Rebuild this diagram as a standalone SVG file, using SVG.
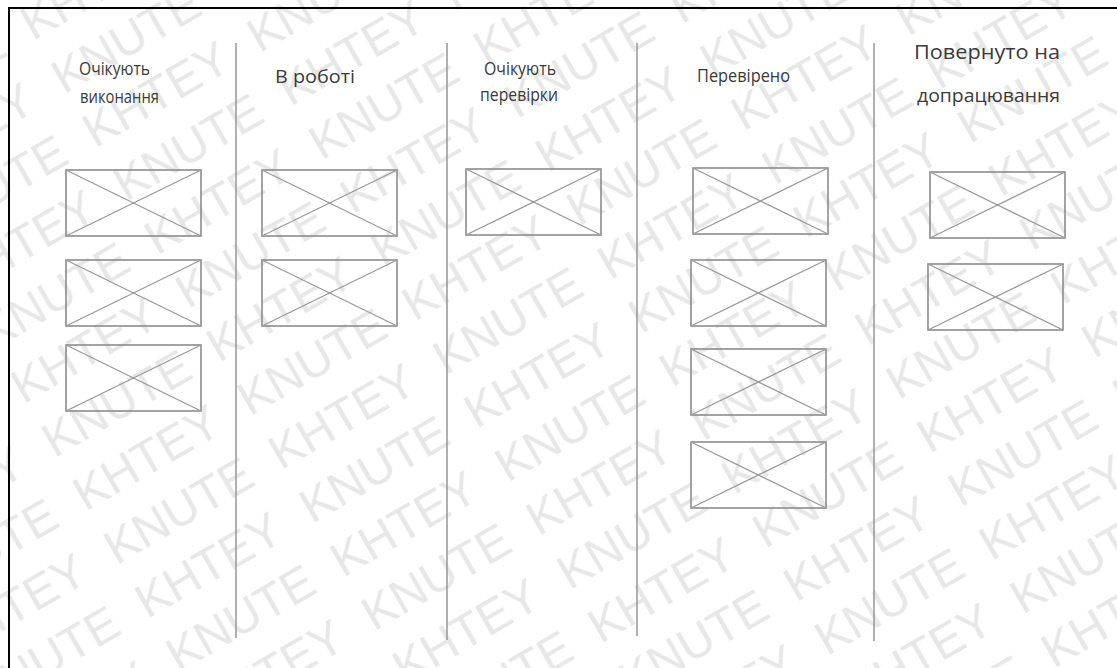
<svg xmlns="http://www.w3.org/2000/svg" width="1117" height="668" viewBox="0 0 1117 668">
<style>
.wm{font-family:"Liberation Sans",Arial,sans-serif;font-size:48px;fill:#e7e7e7}
.lbl{font-family:"Open Sans","DejaVu Sans",sans-serif;font-size:18.5px;fill:#3a3a3a}
.div{stroke:#9c9c9c;stroke-width:1.6}
</style>
<defs>
<g id="x" fill="none">
<rect x="0" y="0" width="135" height="66" stroke="#8c8c8c" stroke-width="1.6"/>
<line x1="0" y1="0" x2="135" y2="66" stroke="#9a9a9a" stroke-width="1.3"/>
<line x1="0" y1="66" x2="135" y2="0" stroke="#9a9a9a" stroke-width="1.3"/>
</g>
<pattern id="wmp" patternUnits="userSpaceOnUse" width="380" height="124" patternTransform="rotate(-30)">
<text class="wm" x="8" y="52">KHTEY</text>
<text class="wm" x="198" y="52">KNUTE</text>
<text class="wm" x="8" y="114">KNUTE</text>
<text class="wm" x="198" y="114">KHTEY</text>
</pattern>
</defs>
<rect width="1117" height="668" fill="#fff"/>
<rect id="watermark" width="1117" height="668" fill="url(#wmp)"/>
<g id="frame" stroke="#000" stroke-width="2" fill="none">
<path d="M9 668 V8 H1117"/>
</g>
<g id="connectors">
<line class="div" x1="236" y1="43" x2="236" y2="638"/>
<line class="div" x1="447" y1="43" x2="447" y2="640"/>
<line class="div" x1="637" y1="43" x2="637" y2="636"/>
<line class="div" x1="874" y1="43" x2="874" y2="641"/>
</g>
<g id="col1">
<text class="lbl" x="79" y="75" textLength="71" lengthAdjust="spacingAndGlyphs">Очікують</text>
<text class="lbl" x="80" y="103" textLength="79" lengthAdjust="spacingAndGlyphs">виконання</text>
<g id="c1a"><use href="#x" x="66" y="170"/></g>
<g id="c1b"><use href="#x" x="66" y="260"/></g>
<g id="c1c"><use href="#x" x="66" y="345"/></g>
</g>
<g id="col2">
<text class="lbl" x="275" y="83" style="font-size:19px" textLength="80" lengthAdjust="spacingAndGlyphs">В роботі</text>
<g id="c2a"><use href="#x" x="262" y="170"/></g>
<g id="c2b"><use href="#x" x="262" y="260"/></g>
</g>
<g id="col3">
<text class="lbl" x="484" y="75" textLength="72" lengthAdjust="spacingAndGlyphs">Очікують</text>
<text class="lbl" x="480" y="101" textLength="78" lengthAdjust="spacingAndGlyphs">перевірки</text>
<g id="c3a"><use href="#x" x="466" y="169"/></g>
</g>
<g id="col4">
<text class="lbl" x="697" y="82" style="font-size:19px" textLength="93" lengthAdjust="spacingAndGlyphs">Перевірено</text>
<g id="c4a"><use href="#x" x="693" y="168"/></g>
<g id="c4b"><use href="#x" x="691" y="260"/></g>
<g id="c4c"><use href="#x" x="691" y="349"/></g>
<g id="c4d"><use href="#x" x="691" y="442"/></g>
</g>
<g id="col5">
<text class="lbl" x="914" y="59" style="font-size:20px" textLength="146" lengthAdjust="spacingAndGlyphs">Повернуто на</text>
<text class="lbl" x="917" y="102" style="font-size:19px" textLength="143" lengthAdjust="spacingAndGlyphs">допрацювання</text>
<g id="c5a"><use href="#x" x="930" y="172"/></g>
<g id="c5b"><use href="#x" x="928" y="264"/></g>
</g>
</svg>
